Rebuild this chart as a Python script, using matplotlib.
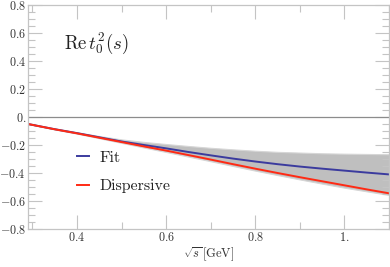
import numpy as np
import matplotlib
matplotlib.use("Agg")
import matplotlib.pyplot as plt
from matplotlib.ticker import FixedLocator, FixedFormatter, MultipleLocator

plt.rcParams['mathtext.fontset'] = 'cm'

# sqrt(s) in GeV
x = [0.29, 0.35, 0.4, 0.45, 0.5, 0.55, 0.6, 0.65, 0.7, 0.75, 0.8, 0.85, 0.9, 0.95, 1.0, 1.05, 1.1]
# Fit (blue)
fit = [-0.05, -0.087, -0.115, -0.145, -0.175, -0.2, -0.224, -0.25, -0.274, -0.297, -0.318, -0.337,
       -0.354, -0.369, -0.383, -0.397, -0.41]
# Dispersive (red)
disp = [-0.05, -0.088, -0.117, -0.148, -0.179, -0.21, -0.24, -0.272, -0.304, -0.337, -0.369, -0.4,
        -0.43, -0.459, -0.488, -0.517, -0.545]
# error band
band_hi = [-0.05, -0.085, -0.11, -0.136, -0.16, -0.178, -0.193, -0.207, -0.22, -0.231, -0.241, -0.249,
           -0.254, -0.259, -0.262, -0.264, -0.266]
band_lo = [-0.05, -0.089, -0.119, -0.152, -0.185, -0.218, -0.25, -0.283, -0.316, -0.35, -0.383, -0.415,
           -0.446, -0.476, -0.505, -0.531, -0.557]

yticks = [0.8, 0.6, 0.4, 0.2, 0.0, -0.2, -0.4, -0.6, -0.8]
ylabels = ['0.8', '0.6', '0.4', '0.2', '0.', '-0.2', '-0.4', '-0.6', '-0.8']
xticks = [0.4, 0.6, 0.8, 1.0]
xlabels = ['0.4', '0.6', '0.8', '1.']

fig = plt.figure(figsize=(3.9, 2.67), dpi=100)
ax = fig.add_axes([28/390, 1-229/267, 361/390, 224/267])

ax.fill_between(x, band_lo, band_hi, color='#bfbfbf', lw=0.8, edgecolor='#d6d6d6')
ax.axhline(0, color='#8c8c8c', lw=0.9)
ax.plot(x, fit, color='#3b3b9e', lw=1.4, label='Fit')
ax.plot(x, disp, color='#ff2a14', lw=1.4, label='Dispersive')

ax.set_xlim(0.29, 1.1)
ax.set_ylim(-0.8, 0.8)

ax.yaxis.set_major_locator(FixedLocator(yticks))
ax.yaxis.set_major_formatter(FixedFormatter(['$%s$' % s for s in ylabels]))
ax.yaxis.set_minor_locator(MultipleLocator(0.05))
ax.xaxis.set_major_locator(FixedLocator(xticks))
ax.xaxis.set_major_formatter(FixedFormatter(['$%s$' % s for s in xlabels]))
ax.xaxis.set_minor_locator(MultipleLocator(0.1))

ax.tick_params(which='both', direction='in', top=True, right=True, color='#c4c4c4',
               labelcolor='#333333', labelsize=8.7, width=0.8)
ax.tick_params(which='major', length=10, pad=1.5)
ax.tick_params(which='minor', length=5)
for sp in ax.spines.values():
    sp.set_color('#c4c4c4')
    sp.set_linewidth(0.9)

ax.set_xlabel(r'$\sqrt{s}\,[\mathrm{GeV}]$', fontsize=9, color='#333333', labelpad=1)
ax.text(0.1, 0.83, r'$\mathrm{Re}\,t_0^2(s)$', transform=ax.transAxes, fontsize=13.5,
        color='#222222', va='center')

leg = ax.legend(loc='upper left', bbox_to_anchor=(0.135, 0.35), frameon=False,
                handlelength=0.75, handletextpad=0.7, labelspacing=0.9, borderpad=0,
                borderaxespad=0, prop={'family': 'cmr10', 'size': 11.5})
for t in leg.get_texts():
    t.set_color('#222222')

fig.savefig('out.png', dpi=100)
